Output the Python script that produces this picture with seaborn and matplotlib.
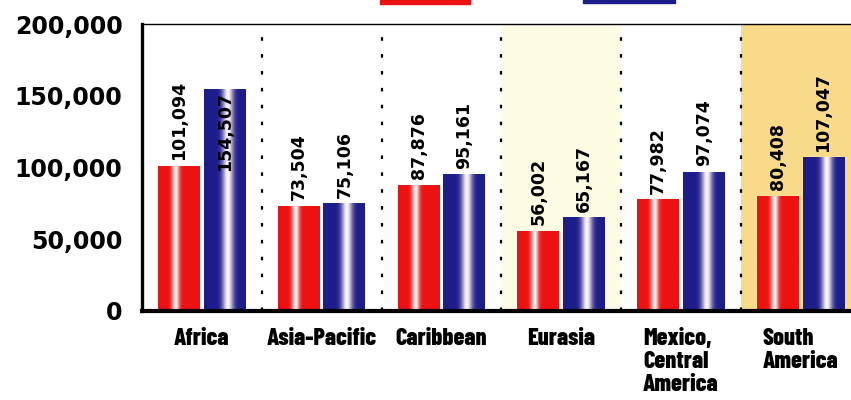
import numpy as np
import pandas as pd
import matplotlib.pyplot as plt
import matplotlib.colors as mcolors
from matplotlib.patches import Rectangle
from matplotlib.ticker import FuncFormatter
import seaborn as sns

regions = ["Africa", "Asia-Pacific", "Caribbean", "Eurasia",
           "Mexico,\nCentral\nAmerica", "South\nAmerica"]
series = ["first", "second"]
first_vals = [101094, 73504, 87876, 56002, 77982, 80408]
second_vals = [154507, 75106, 95161, 65167, 97074, 107047]
y_ticks = [0, 50000, 100000, 150000, 200000]

RED = "#ee1111"
BLUE = "#1c1c8a"

df = pd.DataFrame({
    "region": regions * 2,
    "series": [series[0]] * 6 + [series[1]] * 6,
    "value": first_vals + second_vals,
})

sns.set_style("white")
fig = plt.figure(figsize=(8.51, 4.0), dpi=100)
ax = fig.add_axes([142 / 851, 1 - 311 / 400, 1 - 142 / 851, (311 - 24) / 400])

# region background shading
ax.axvspan(2.5, 3.5, color="#fdfbe4", zorder=0, lw=0)
ax.axvspan(4.5, 6.0, color="#f8da88", zorder=0, lw=0)

sns.barplot(data=df, x="region", y="value", hue="series", order=regions,
            hue_order=series, palette=[RED, BLUE], width=0.76, gap=0.08,
            saturation=1, legend=False, ax=ax, zorder=2)


def gradient(color, center, spread):
    base = np.array(mcolors.to_rgb(color))
    xs = np.linspace(0, 1, 200)
    glow = np.exp(-((xs - center) / spread) ** 2)
    rgb = base[None, :] * (1 - glow[:, None]) + np.array([1.0, 0.96, 0.96])[None, :] * glow[:, None]
    return rgb[None, :, :]


# cylinder-like shading on the bars
styles = [(RED, 0.42, 0.09), (BLUE, 0.57, 0.13)]
for cont, (col, c, s) in zip(ax.containers, styles):
    img = gradient(col, c, s)
    for p in cont.patches:
        x0, w, h = p.get_x(), p.get_width(), p.get_height()
        im = ax.imshow(img, extent=[x0, x0 + w, 0, h], aspect="auto",
                       zorder=2.5, interpolation="bilinear")
        im.set_clip_path(p)

ax.set_ylim(0, 200000)
ax.set_xlim(-0.5, 5.42)

# value labels
for cont in ax.containers:
    for p in cont.patches:
        h = p.get_height()
        xc = p.get_x() + p.get_width() / 2
        if h > 140000:
            ax.annotate(f"{int(h):,}", (xc, h), xytext=(0, -2), textcoords="offset points",
                        rotation=90, ha="center", va="top", fontsize=12.5,
                        fontweight="bold", color="black", zorder=4)
        else:
            ax.annotate(f"{int(h):,}", (xc, h), xytext=(0, 4), textcoords="offset points",
                        rotation=90, ha="center", va="bottom", fontsize=12.5,
                        fontweight="bold", color="black", zorder=4)

# dotted separators
for xs in np.arange(0.5, 5, 1.0):
    ax.axvline(xs, color="black", lw=1.6, ls=(0, (1.6, 6.0)), zorder=1.5)

ax.set_yticks(y_ticks)
ax.yaxis.set_major_formatter(FuncFormatter(lambda v, _: f"{int(v):,}"))
for t in ax.get_yticklabels():
    t.set_fontsize(17)
    t.set_fontweight("bold")
    t.set_color("black")
ax.tick_params(axis="y", length=0, pad=14)
ax.tick_params(axis="x", length=0, pad=12)
ax.set_xticks(range(len(regions)))
ax.set_xticklabels(regions, fontsize=17.5, fontweight=800,
                   family=["Barlow Condensed", "DejaVu Sans"], color="black",
                   linespacing=1.08, multialignment="left", va="top")
ax.set_xlabel("")
ax.set_ylabel("")

for side in ["left", "bottom", "top"]:
    ax.spines[side].set_visible(True)
    ax.spines[side].set_color("black")
ax.spines["left"].set_linewidth(2.4)
ax.spines["bottom"].set_linewidth(3.0)
ax.spines["top"].set_linewidth(1.0)
ax.spines["right"].set_visible(False)

# legend swatches cut off at the top edge
fig.patches.append(Rectangle((380 / 851, 1 - 4 / 400), 90 / 851, 4 / 400,
                             transform=fig.transFigure, color=RED, zorder=5))
fig.patches.append(Rectangle((583 / 851, 1 - 3 / 400), 92 / 851, 3 / 400,
                             transform=fig.transFigure, color=BLUE, zorder=5))

fig.savefig("out.png", dpi=100)
